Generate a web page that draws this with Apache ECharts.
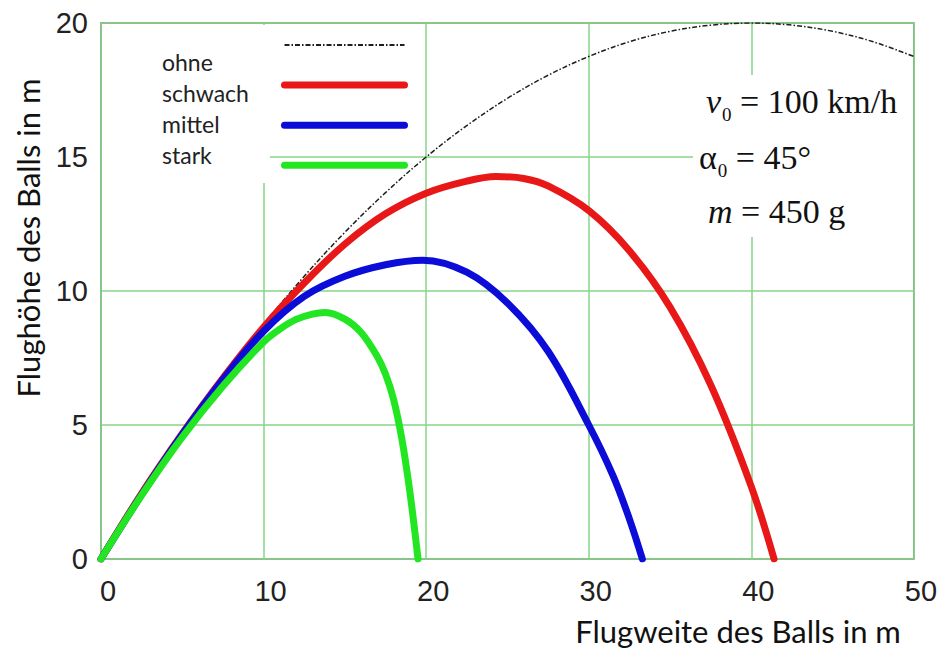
<!DOCTYPE html>
<html>
<head>
<meta charset="utf-8">
<script src="https://cdn.jsdelivr.net/npm/echarts@6/dist/echarts.min.js"></script>
<style>html,body{margin:0;padding:0;background:#fff;}#chart{width:940px;height:650px;}</style>
</head>
<body>
<div id="chart"></div>
<script>
// ---- data ----
const seriesNames = ['ohne', 'schwach', 'mittel', 'stark'];
const xTicks = [0, 10, 20, 30, 40, 50];
const yTicks = [0, 5, 10, 15, 20];

const ohneX = [0, 2.5, 5, 7.5, 10, 12.5, 15, 17.5, 20, 22.5, 25, 27.5, 30, 32.5, 35, 37.5, 40, 42.5, 45, 47.5, 50];
const ohneY = [0, 2.42, 4.69, 6.8, 8.75, 10.55, 12.19, 13.67, 15.0, 16.17, 17.19, 18.05, 18.75, 19.3, 19.69, 19.92, 20.0, 19.92, 19.69, 19.3, 18.75];

const schwachX = [0, 2.5, 5, 7.5, 10, 12.5, 15, 17.5, 20, 22.5, 24.3, 26, 27.5, 30, 32.5, 35, 37.5, 40, 41.4];
const schwachY = [0, 2.45, 4.68, 6.75, 8.65, 10.3, 11.75, 12.88, 13.65, 14.1, 14.27, 14.2, 13.92, 13.0, 11.5, 9.4, 6.5, 2.7, 0];

const mittelX = [0, 2.5, 5, 7.5, 10, 12.5, 15, 17.5, 19.8, 22.5, 25, 27.5, 30, 31.5, 32.5, 33.3];
const mittelY = [0, 2.4, 4.65, 6.7, 8.5, 9.8, 10.55, 10.98, 11.15, 10.7, 9.55, 7.75, 5.0, 3.1, 1.5, 0];

const starkX = [0, 2.5, 5, 7.5, 10, 11, 12, 13, 13.8, 15, 16, 17, 17.5, 18, 18.5, 19, 19.5];
const starkY = [0, 2.38, 4.55, 6.45, 8.1, 8.58, 8.94, 9.14, 9.2, 8.95, 8.45, 7.55, 6.9, 5.95, 4.5, 2.5, 0];

const colors = ['#1e1e1e', '#e81818', '#0c0cd8', '#22e622'];

function pairs(xs, ys) { return xs.map((x, i) => [x, ys[i]]); }

const chart = echarts.init(document.getElementById('chart'), null, { renderer: 'svg' });

const dashDot = [5, 2, 1.5, 2];
const lineFont = 'Lato, "Open Sans", sans-serif';
const numFont = '"Liberation Sans Narrow", "Arial Narrow", "Liberation Sans", sans-serif';
const serif = '"Liberation Serif", "Times New Roman", serif';

const curveSeries = [
  { name: seriesNames[0], data: pairs(ohneX, ohneY), lineStyle: { color: colors[0], width: 1.5, type: dashDot } },
  { name: seriesNames[1], data: pairs(schwachX, schwachY), lineStyle: { color: colors[1], width: 7, cap: 'round' } },
  { name: seriesNames[2], data: pairs(mittelX, mittelY), lineStyle: { color: colors[2], width: 7, cap: 'round' } },
  { name: seriesNames[3], data: pairs(starkX, starkY), lineStyle: { color: colors[3], width: 7, cap: 'round' } }
].map((s, i) => Object.assign({
  type: 'line',
  showSymbol: false,
  symbol: 'none',
  smooth: 0.35,
  color: colors[i],
  z: 3 + i,
  silent: true
}, s));

const option = {
  animation: false,
  backgroundColor: '#fff',
  grid: {
    left: 101, top: 23, width: 817, height: 536,
    show: true, borderColor: '#707070', borderWidth: 1.5, backgroundColor: 'transparent'
  },
  xAxis: {
    type: 'value', min: xTicks[0], max: xTicks[xTicks.length - 1], interval: 10,
    axisLine: { show: false }, axisTick: { show: false },
    axisLabel: { fontFamily: numFont, fontSize: 29, color: '#222', margin: 17, padding: [0, 0, 0, 14] },
    splitLine: { show: true, lineStyle: { color: '#86d686', width: 1.5 } }
  },
  yAxis: {
    type: 'value', min: yTicks[0], max: yTicks[yTicks.length - 1], interval: 5,
    axisLine: { show: false }, axisTick: { show: false },
    axisLabel: { fontFamily: numFont, fontSize: 29, color: '#222', margin: 13, padding: [7, 0, 0, 0] },
    splitLine: { show: true, lineStyle: { color: '#86d686', width: 1.5 } }
  },
  legend: [
    {
      // legend labels (text column)
      left: 153, top: 46, orient: 'vertical', padding: 0, itemGap: 0,
      itemWidth: 0, itemHeight: 10, selectedMode: false,
      itemStyle: { opacity: 0 }, lineStyle: { opacity: 0 },
      textStyle: { fontFamily: lineFont, fontSize: 23, color: '#222', lineHeight: 31 },
      data: seriesNames.map(n => ({ name: n }))
    },
    {
      // legend line samples (icon column)
      left: 281, top: 38, orient: 'vertical', padding: 0, itemGap: 27.5,
      itemWidth: 120, itemHeight: 14, selectedMode: false,
      itemStyle: { opacity: 0, borderWidth: 0 },
      formatter: () => '',
      data: [
        { name: seriesNames[0], lineStyle: { width: 2, type: dashDot, color: colors[0] } },
        { name: seriesNames[1], lineStyle: { width: 7, cap: 'round', color: colors[1] } },
        { name: seriesNames[2], lineStyle: { width: 7, cap: 'round', color: colors[2] } },
        { name: seriesNames[3], lineStyle: { width: 7, cap: 'round', color: colors[3] } }
      ]
    }
  ],
  graphic: [
    { type: 'rect', z: 1, shape: { x: 102, y: 25, width: 168, height: 158 }, style: { fill: '#fff' }, silent: true },
    { type: 'rect', z: 1, shape: { x: 693, y: 75, width: 220, height: 162 }, style: { fill: '#fff' }, silent: true },
    {
      type: 'text', z: 10, x: 28, y: 238, rotation: Math.PI / 2,
      style: { text: 'Flughöhe des Balls in m', fontFamily: lineFont, fontSize: 31, fill: '#111', align: 'center', verticalAlign: 'middle' }
    },
    {
      type: 'text', z: 10, x: 738, y: 631,
      style: { text: 'Flugweite des Balls in m', fontFamily: lineFont, fontSize: 31, fill: '#111', align: 'center', verticalAlign: 'middle' }
    },
    {
      type: 'text', z: 10, x: 706, y: 101,
      style: {
        text: '{i|v}{s|0}{n| = 100 km/h}', align: 'left', verticalAlign: 'middle', fill: '#111',
        rich: {
          i: { fontFamily: serif, fontStyle: 'italic', fontSize: 34, fill: '#111' },
          s: { fontFamily: serif, fontSize: 19, fill: '#111', padding: [26, 0, 0, 1] },
          n: { fontFamily: serif, fontSize: 34, fill: '#111' }
        }
      }
    },
    {
      type: 'text', z: 10, x: 699, y: 157,
      style: {
        text: '{g|α}{s|0}{n| = 45°}', align: 'left', verticalAlign: 'middle', fill: '#111',
        rich: {
          g: { fontFamily: serif, fontSize: 34, fill: '#111' },
          s: { fontFamily: serif, fontSize: 19, fill: '#111', padding: [26, 0, 0, 1] },
          n: { fontFamily: serif, fontSize: 34, fill: '#111' }
        }
      }
    },
    {
      type: 'text', z: 10, x: 708, y: 211,
      style: {
        text: '{i|m}{n| = 450 g}', align: 'left', verticalAlign: 'middle', fill: '#111',
        rich: {
          i: { fontFamily: serif, fontStyle: 'italic', fontSize: 34, fill: '#111' },
          n: { fontFamily: serif, fontSize: 34, fill: '#111' }
        }
      }
    }
  ],
  series: curveSeries
};

chart.setOption(option);
</script>
</body>
</html>
